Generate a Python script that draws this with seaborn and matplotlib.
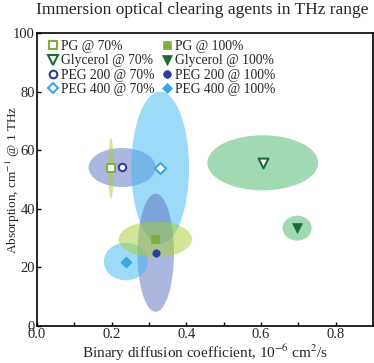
import matplotlib
matplotlib.use("Agg")
import matplotlib.pyplot as plt
import seaborn as sns
import pandas as pd
from matplotlib.patches import Ellipse
from matplotlib.lines import Line2D

sns.set_theme(style="ticks")
plt.rcParams['font.family'] = ['Liberation Serif', 'DejaVu Serif']
plt.rcParams['mathtext.fontset'] = 'stix'

labels = ["PG @ 70%", "Glycerol @ 70%", "PEG 200 @ 70%", "PEG 400 @ 70%",
          "PG @ 100%", "Glycerol @ 100%", "PEG 200 @ 100%", "PEG 400 @ 100%"]
diffusion = [0.198, 0.605, 0.228, 0.330, 0.317, 0.697, 0.318, 0.238]
absorption = [53.8, 55.7, 54.1, 54.0, 29.6, 33.4, 25.0, 22.0]
width_x = [0.014, 0.297, 0.180, 0.155, 0.197, 0.078, 0.098, 0.118]
height_y = [21.0, 18.8, 13.3, 52.0, 12.2, 8.5, 40.3, 12.8]

agent_color = {"PG": "#7fae3a", "Glycerol": "#1d6b34", "PEG 200": "#2b3b9c", "PEG 400": "#3aa6e4"}
ellipse_color = {"PG": "#a8cf30", "Glycerol": "#46b46c", "PEG 200": "#5a70c0", "PEG 400": "#3cb6f0"}
agent_marker = {"PG": "s", "Glycerol": "v", "PEG 200": "o", "PEG 400": "D"}
marker_size = {"PG": 32, "Glycerol": 50, "PEG 200": 28, "PEG 400": 32}

df = pd.DataFrame({"label": labels, "x": diffusion, "y": absorption,
                   "w": width_x, "h": height_y})
df["agent"] = df["label"].str.split(" @ ").str[0]
df["filled"] = df["label"].str.contains("100")

fig = plt.figure(figsize=(3.74, 3.63), dpi=100)
ax = fig.add_axes([0.099, 0.102, 0.898, 0.807])

draw_order = ["PEG 200 @ 70%", "PEG 400 @ 70%", "PG @ 70%", "Glycerol @ 70%",
              "PEG 200 @ 100%", "PEG 400 @ 100%", "PG @ 100%", "Glycerol @ 100%"]
for lab in draw_order:
    r = df[df.label == lab].iloc[0]
    ax.add_patch(Ellipse((r.x, r.y), r.w, r.h, facecolor=ellipse_color[r.agent],
                         edgecolor="none", alpha=0.5, zorder=1))

handles = []
for _, r in df.iterrows():
    c = agent_color[r.agent]
    face = c if r.filled else "white"
    sns.scatterplot(x=[r.x], y=[r.y], marker=agent_marker[r.agent], s=marker_size[r.agent],
                    color=face, edgecolor=c, linewidth=1.5 if not r.filled else 0.5,
                    ax=ax, zorder=3, legend=False)
    handles.append(Line2D([], [], linestyle="none", marker=agent_marker[r.agent],
                          markersize=5.5 if r.agent != "Glycerol" else 7,
                          markerfacecolor=face, markeredgecolor=c,
                          markeredgewidth=1.5 if not r.filled else 0.5, label=r.label))

ax.set_xlim(0, 0.9)
ax.set_ylim(0, 100)
ax.set_xticks([0.0, 0.2, 0.4, 0.6, 0.8])
ax.set_xticklabels(["0.0", "0.2", "0.4", "0.6", "0.8"])
ax.set_xticks([0.1, 0.3, 0.5, 0.7], minor=True)
ax.set_yticks([0, 20, 40, 60, 80, 100])
ax.tick_params(axis="both", which="both", direction="in", labelsize=10.5, color="black",
               pad=1.5)
ax.tick_params(axis="both", which="major", length=3, width=1)
ax.tick_params(axis="both", which="minor", length=3, width=1)
for s in ax.spines.values():
    s.set_linewidth(1.2)
    s.set_color("black")

ax.set_xlabel("Binary diffusion coefficient, 10$^{-6}$ cm$^{2}$/s", fontsize=11, labelpad=1)
ax.set_ylabel("Absorption, cm$^{-1}$ @ 1 THz", fontsize=9.5)
ax.yaxis.set_label_coords(-0.045, 0.5)
fig.suptitle("Immersion optical clearing agents in THz range", fontsize=12.5,
             x=0.54, y=0.995, va="top")

ax.legend(handles=handles, ncol=2, loc="upper left", bbox_to_anchor=(0.02, 0.995),
          frameon=False, fontsize=9.8,
          handlelength=0.6, handletextpad=0.3, columnspacing=0.6, labelspacing=0.1,
          borderaxespad=0.2, borderpad=0.2)

fig.savefig("out.png", dpi=100)
